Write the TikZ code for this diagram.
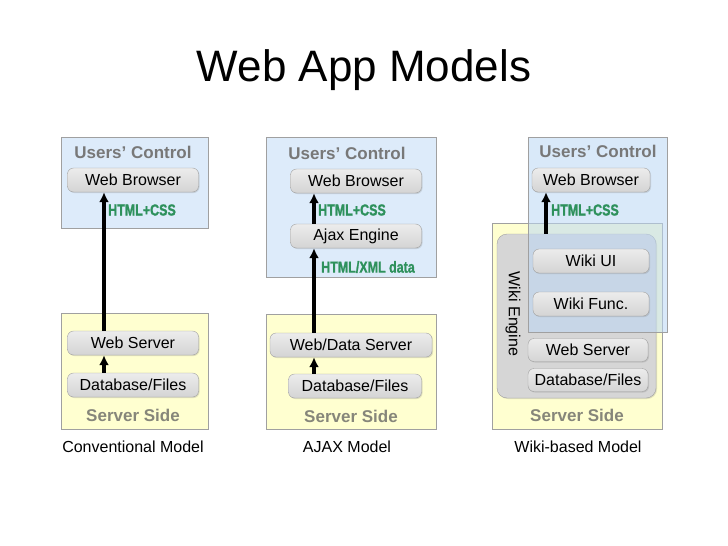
\documentclass[tikz,border=0pt]{standalone}
\usepackage{fontspec}
\setmainfont{Liberation Sans}
\newfontfamily\tagfont[FakeStretch=0.78,FakeBold=1.2]{Liberation Sans}
\usetikzlibrary{arrows.meta,shadows}
\tikzset{>={Latex[length=10pt,width=10pt]}}
\definecolor{usrblue}{RGB}{221,235,250}
\definecolor{usrdeep}{RGB}{187,215,245}
\definecolor{srvyellow}{RGB}{255,255,208}
\definecolor{boxline}{RGB}{160,160,160}
\definecolor{tagcolor}{RGB}{46,145,92}
\definecolor{headgray}{RGB}{120,120,120}
\definecolor{sidegray}{RGB}{134,134,122}
\definecolor{enginegray}{RGB}{214,214,214}
\tikzstyle{block}=[
	 rectangle, rounded corners=6pt,
	 draw=boxline,
	 top color={rgb,255:red,236;green,236;blue,236},
	 bottom color={rgb,255:red,212;green,212;blue,212},
	 drop shadow={opacity=0.25,shadow xshift=1pt,shadow yshift=-1pt},
	 minimum height=24pt, inner sep=0pt,
	 font=\fontsize{16}{18}\selectfont
    ]
\tikzstyle{engine}=[rectangle, rounded corners=10pt, draw=boxline, fill=enginegray,
	 drop shadow={opacity=0.25,shadow xshift=1pt,shadow yshift=-1pt}]
\tikzstyle{usrbox}=[draw=boxline, fill=usrblue]
\tikzstyle{srvbox}=[draw=boxline, fill=srvyellow]
\tikzstyle{head}=[text=headgray, font=\bfseries\fontsize{17}{20}\selectfont]
\tikzstyle{tag}=[text=tagcolor, font=\tagfont\bfseries\fontsize{16}{18}\selectfont]
\tikzstyle{caption}=[font=\fontsize{16}{18}\selectfont]
\tikzstyle{flow}=[->, line width=3.2pt]
\newcommand{\pUp}[3]{\draw[flow] (#3,0 |- #1.north) -- (#3,0 |- #2.south);}

\begin{document}
\begin{tikzpicture}[x=1pt,y=-1pt]

\fill[white] (0,0) rectangle (728,546);
\useasboundingbox (0,0) rectangle (728,546);

\node[font=\fontsize{44}{50}\selectfont] (title) at (364,70) {Web App Models};

% conventional
\draw[usrbox] (61,137) rectangle (208,228);
\draw[srvbox] (61,313) rectangle (208,429);
\node[head] (U1) at (133,152) {Users' Control};
\node[block,minimum width=131] (WB1) at (133,180) {Web Browser};
\node[tag] (T1) at (142,210) {HTML+CSS};
\node[block,minimum width=131] (WS1) at (133,343) {Web Server};
\node[block,minimum width=131] (DB1) at (133,385) {Database/Files};
\node[head,text=sidegray] (S1) at (133,415) {Server Side};
\node[caption] (C1) at (133,447) {Conventional Model};
\pUp{WS1}{WB1}{104}
\pUp{DB1}{WS1}{104}

% ajax
\draw[usrbox] (266,137) rectangle (436,277);
\draw[srvbox] (266,314) rectangle (436,429);
\node[head] (U2) at (347,153) {Users' Control};
\node[block,minimum width=131] (WB2) at (356,181) {Web Browser};
\node[tag] (T2) at (352,210) {HTML+CSS};
\node[block,minimum width=131] (AE2) at (356,236) {Ajax Engine};
\node[tag] (X2) at (368,267) {HTML/XML data};
\node[block,minimum width=162] (WS2) at (351,345) {Web/Data Server};
\node[block,minimum width=133] (DB2) at (355,386) {Database/Files};
\node[head,text=sidegray] (S2) at (351,416) {Server Side};
\node[caption] (C2) at (347,447) {AJAX Model};
\pUp{AE2}{WB2}{314}
\pUp{WS2}{AE2}{314}
\pUp{DB2}{WS2}{314}

% wiki
\draw[srvbox] (492,223) rectangle (662,429);
\node[engine,minimum width=159,minimum height=164] (E3) at (576.5,316) {};
\draw[draw=boxline,fill=usrdeep,fill opacity=0.55] (528,137) rectangle (667,332);
\node[rotate=-90,font=\fontsize{16}{18}\selectfont] (EL3) at (513,314) {Wiki Engine};
\node[head] (U3) at (598,151) {Users' Control};
\node[block,minimum width=118] (WB3) at (591,180) {Web Browser};
\node[tag] (T3) at (585,210) {HTML+CSS};
\node[block,minimum width=116] (UI3) at (591,261) {Wiki UI};
\node[block,minimum width=116] (WF3) at (591,304) {Wiki Func.};
\node[block,minimum width=120,minimum height=23] (WS3) at (588,350) {Web Server};
\node[block,minimum width=120,minimum height=23] (DB3) at (588,380) {Database/Files};
\node[head,text=sidegray] (S3) at (577,415) {Server Side};
\node[caption] (C3) at (578,447) {Wiki-based Model};
\pUp{E3}{WB3}{546}

\end{tikzpicture}
\end{document}
